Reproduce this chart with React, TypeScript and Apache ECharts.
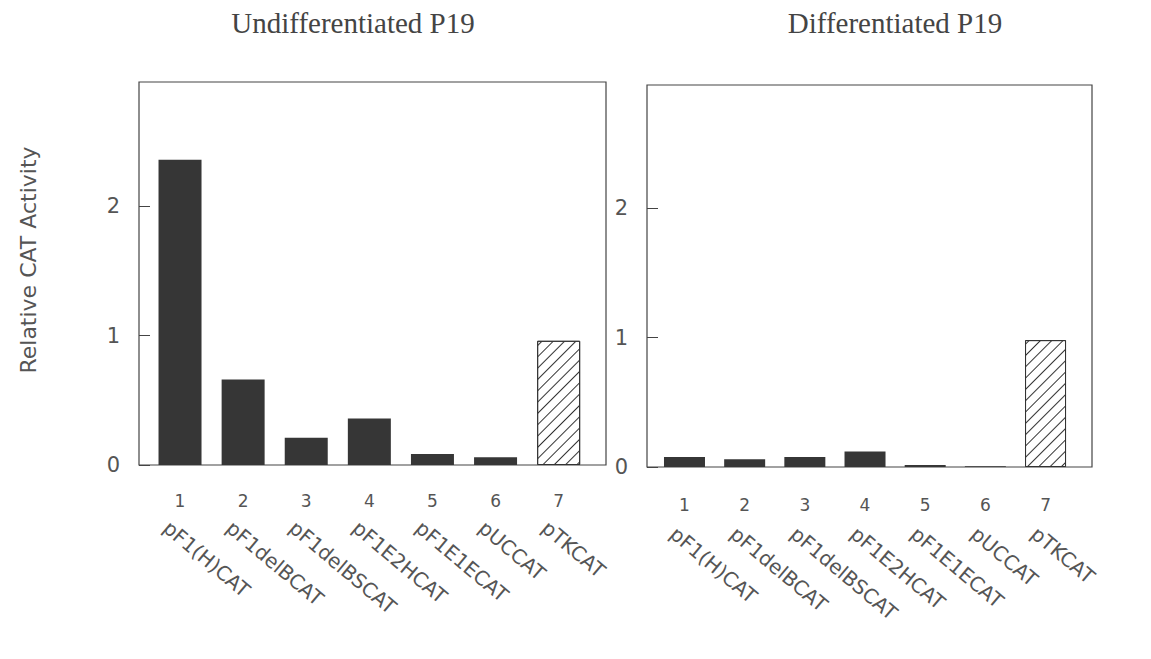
import React, { useEffect, useRef } from "react";
import * as echarts from "echarts";

// Data
const positions = [1, 2, 3, 4, 5, 6, 7];
const numberLabels = ["1", "2", "3", "4", "5", "6", "7"];
const constructs = [
  "pF1(H)CAT",
  "pF1delBCAT",
  "pF1delBSCAT",
  "pF1E2HCAT",
  "pF1E1ECAT",
  "pUCCAT",
  "pTKCAT",
];
const undifferentiated = [2.36, 0.66, 0.21, 0.36, 0.085, 0.06, 0.96];
const differentiated = [0.077, 0.06, 0.077, 0.12, 0.015, 0.005, 0.98];
const yTicks = [0, 1, 2];
const panelTitles = ["Undifferentiated P19", "Differentiated P19"];
const yAxisTitle = "Relative CAT Activity";

const TEXT = "#555";
const LINE = "#444";
const DARK = "#363636";
const SANS = "DejaVu Sans";

const darkStyle = { color: DARK };
const hatchStyle = {
  color: "#ffffff",
  borderColor: "#333",
  borderWidth: 1,
  decal: {
    symbol: "rect",
    symbolSize: 1,
    dashArrayX: [1, 0],
    dashArrayY: [1, 7],
    rotation: -Math.PI / 4,
    color: "#333",
  },
};

function barData(values: number[]) {
  return values.map((v, i) => ({
    value: [positions[i], v],
    itemStyle: i === values.length - 1 ? hatchStyle : darkStyle,
  }));
}

function numberAxis(gridIndex: number, min: number, max: number, margin: number) {
  return {
    type: "value",
    gridIndex,
    position: "bottom",
    min,
    max,
    axisLine: { show: false },
    axisTick: { show: false },
    splitLine: { show: false },
    axisLabel: {
      customValues: positions,
      formatter: (v: number) => numberLabels[Math.round(v) - 1] ?? "",
      color: TEXT,
      fontFamily: SANS,
      fontSize: 17,
      margin,
      hideOverlap: false,
    },
  };
}

function nameAxis(gridIndex: number, min: number, max: number, margin: number) {
  return {
    type: "value",
    gridIndex,
    position: "bottom",
    min,
    max,
    axisLine: { show: false },
    axisTick: { show: false },
    splitLine: { show: false },
    axisLabel: {
      customValues: positions,
      formatter: (v: number) => constructs[Math.round(v) - 1] ?? "",
      color: TEXT,
      fontFamily: SANS,
      fontSize: 20,
      rotate: -40,
      margin,
      hideOverlap: false,
    },
  };
}

function valueAxis(gridIndex: number, max: number) {
  return {
    type: "value",
    gridIndex,
    min: 0,
    max,
    axisLine: { show: false },
    splitLine: { show: false },
    axisTick: {
      show: true,
      inside: true,
      length: 11,
      customValues: yTicks,
      lineStyle: { color: LINE, width: 1 },
    },
    axisLabel: {
      customValues: yTicks,
      formatter: (v: number) => String(v),
      color: TEXT,
      fontFamily: SANS,
      fontSize: 21,
      margin: 19,
    },
  };
}

export default function App() {
  const ref = useRef<HTMLDivElement>(null);

  useEffect(() => {
    if (!ref.current) return;
    const chart = echarts.init(ref.current, null, { renderer: "svg" });
    chart.setOption({
      animation: false,
      backgroundColor: "#ffffff",
      grid: [
        {
          left: 139,
          top: 82,
          width: 467,
          height: 383,
          show: true,
          borderColor: LINE,
          borderWidth: 1.2,
          backgroundColor: "transparent",
        },
        {
          left: 647,
          top: 85,
          width: 445,
          height: 382,
          show: true,
          borderColor: LINE,
          borderWidth: 1.2,
          backgroundColor: "transparent",
        },
      ],
      xAxis: [
        numberAxis(0, 0.35, 7.75, 27),
        nameAxis(0, 0.57, 7.97, 60),
        numberAxis(1, 0.377, 7.772, 29),
        nameAxis(1, 0.567, 7.962, 64),
      ],
      yAxis: [valueAxis(0, 2.96), valueAxis(1, 2.95)],
      series: [
        {
          type: "bar",
          xAxisIndex: 0,
          yAxisIndex: 0,
          barWidth: 43,
          data: barData(undifferentiated),
        },
        {
          type: "bar",
          xAxisIndex: 2,
          yAxisIndex: 1,
          barWidth: 41,
          data: barData(differentiated),
        },
      ],
      graphic: [
        {
          type: "text",
          x: 353,
          y: 23,
          style: {
            text: panelTitles[0],
            fontFamily: "Liberation Serif",
            fontSize: 29,
            fill: "#444",
            textAlign: "center",
            textVerticalAlign: "middle",
            align: "center",
            verticalAlign: "middle",
          },
        },
        {
          type: "text",
          x: 895,
          y: 23,
          style: {
            text: panelTitles[1],
            fontFamily: "Liberation Serif",
            fontSize: 29,
            fill: "#444",
            textAlign: "center",
            textVerticalAlign: "middle",
            align: "center",
            verticalAlign: "middle",
          },
        },
        {
          type: "text",
          x: 28,
          y: 260,
          rotation: Math.PI / 2,
          style: {
            text: yAxisTitle,
            fontFamily: SANS,
            fontSize: 22,
            fill: TEXT,
            textAlign: "center",
            textVerticalAlign: "middle",
            align: "center",
            verticalAlign: "middle",
          },
        },
      ],
    });
    return () => chart.dispose();
  }, []);

  return (
    <div
      ref={ref}
      style={{ position: "fixed", left: 0, top: 0, width: 1151, height: 659 }}
    />
  );
}
